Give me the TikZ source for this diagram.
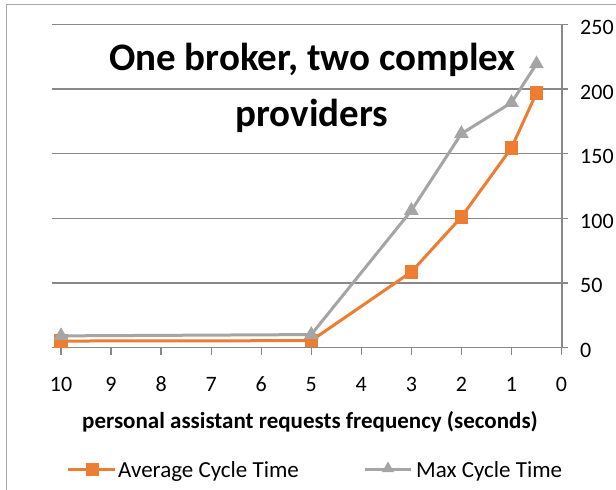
\documentclass[tikz,border=0pt]{standalone}
\usepackage{fontspec}
\setmainfont{Carlito}
\usetikzlibrary{shapes.geometric}
\definecolor{seriesorange}{HTML}{ED7D31}
\definecolor{seriesgray}{HTML}{A5A5A5}
\definecolor{gridgray}{HTML}{888888}
\definecolor{framegray}{HTML}{A8A8A8}
\begin{document}
\begin{tikzpicture}[x=1pt,y=-1pt,
  frameline/.style={draw=framegray,line width=1.4pt},
  gridline/.style={draw=gridgray,line width=1.3pt},
  ticklabel/.style={inner sep=0pt,font=\fontsize{22}{26}\selectfont},
  titletext/.style={inner sep=0pt,font=\fontsize{39}{44}\selectfont\bfseries},
  axistitle/.style={inner sep=0pt,font=\fontsize{23}{27}\selectfont\bfseries},
  legendtext/.style={inner sep=0pt,font=\fontsize{23}{27}\selectfont},
  avgline/.style={draw=seriesorange,line width=3pt,line join=round},
  maxline/.style={draw=seriesgray,line width=3pt,line join=round},
  avgmark/.style={rectangle,fill=seriesorange,minimum size=13.5pt,inner sep=0pt},
  maxmark/.style={regular polygon,regular polygon sides=3,fill=seriesgray,minimum size=17pt,inner sep=0pt},
  legmaxmark/.style={regular polygon,regular polygon sides=3,fill=seriesgray,minimum size=14pt,inner sep=0pt}]
\useasboundingbox (0,0) rectangle (616,490);
\fill[white] (0,0) rectangle (616,490);

% chart frame (left and top edges)
\draw[frameline] (6.5,490) -- (6.5,4.5) -- (616,4.5);

% horizontal gridlines, right value axis and its ticks and labels
\foreach \v in {0,50,...,250}{
  \pgfmathsetmacro\gy{347.5-1.292*\v}
  \draw[gridline] (52,\gy) -- (568,\gy);
  \node[ticklabel,anchor=base west] (ylab\v) at (580,\gy+10) {\v};
}
\draw[gridline] (562,24.5) -- (562,347.5);

% category axis ticks and labels (10 down to 0)
\foreach \t in {0,...,10}{
  \pgfmathsetmacro\gx{561.5-50.05*\t}
  \draw[gridline] (\gx,347.5) -- (\gx,354.5);
  \node[ticklabel,anchor=base] (xlab\t) at (\gx,391) {\t};
}

% data points in axis units
\begin{scope}[shift={(561.5,347.5)},x=-50.05pt,y=1.292pt]
  \coordinate (a1) at (10,5);
  \coordinate (a2) at (5,5.3);
  \coordinate (a3) at (3,58.5);
  \coordinate (a4) at (2,101);
  \coordinate (a5) at (1,154.5);
  \coordinate (a6) at (0.5,197);
  \coordinate (m1) at (10,9);
  \coordinate (m2) at (5,10);
  \coordinate (m3) at (3,106);
  \coordinate (m4) at (2,165.5);
  \coordinate (m5) at (1,189.5);
  \coordinate (m6) at (0.5,219.5);
\end{scope}

% average cycle time series
\draw[avgline] (a1) -- (a2) -- (a3) -- (a4) -- (a5) -- (a6);
\foreach \i in {1,...,6}{ \node[avgmark] (asq\i) at (a\i) {}; }

% max cycle time series
\draw[maxline] (m1) -- (m2) -- (m3) -- (m4) -- (m5) -- (m6);
\foreach \i in {1,...,6}{ \node[maxmark] (mtri\i) at (m\i) {}; }

% chart title
\node[titletext,anchor=base] (title1) at (312.5,70) {One broker, two complex};
\node[titletext,anchor=base] (title2) at (312,126) {providers};

% axis title
\node[axistitle,anchor=base] (xtitle) at (310,428) {personal assistant requests frequency (seconds)};

% legend
\coordinate (lgA1) at (68,469.5);
\coordinate (lgA2) at (115,469.5);
\draw[avgline] (lgA1) -- (lgA2);
\node[avgmark] (lgAsq) at (92.5,469.5) {};
\node[legendtext,anchor=base west] (lgAtext) at (118,477) {Average Cycle Time};

\coordinate (lgM1) at (365,469.5);
\coordinate (lgM2) at (411,469.5);
\draw[maxline] (lgM1) -- (lgM2);
\node[legmaxmark] (lgMtri) at (388,468.5) {};
\node[legendtext,anchor=base west] (lgMtext) at (416,477) {Max Cycle Time};
\end{tikzpicture}
\end{document}
